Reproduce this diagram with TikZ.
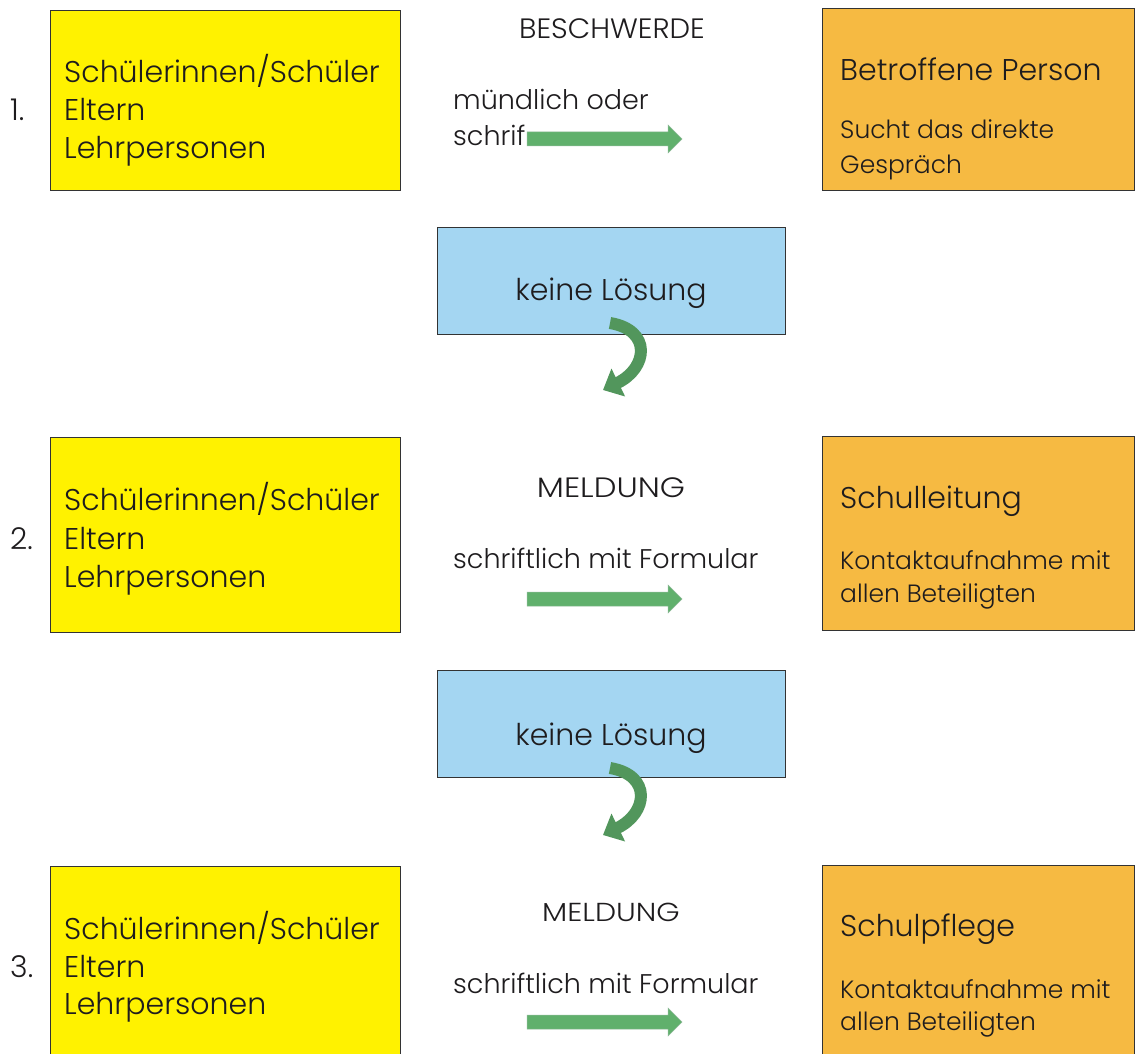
\documentclass[tikz,border=0pt]{standalone}
\usepackage{fontspec}
\IfFontExistsTF{Poppins Light}{\setmainfont{Poppins Light}}{\setmainfont{Poppins}}
\usetikzlibrary{arrows.meta}
\definecolor{yel}{RGB}{255,242,0}
\definecolor{ora}{RGB}{246,186,66}
\definecolor{blu}{RGB}{164,214,242}
\definecolor{grn}{RGB}{96,176,108}
\definecolor{grnd}{RGB}{66,140,84}
\definecolor{txt}{RGB}{30,28,30}
\newcommand\flatarr[1]{\fill[grn, draw=grnd!60, line width=0.5pt] (#1) ++(0,-7) -- ++(141,0) -- ++(0,-7) -- ++(14,14) -- ++(-14,14) -- ++(0,-7) -- ++(-141,0) -- cycle;}
\begin{document}
\begin{tikzpicture}[x=1pt,y=-1pt,
  box/.style={draw=black!80, line width=0.8pt, inner sep=0pt, outer sep=0pt, anchor=north west},
  ybox/.style={box, fill=yel, minimum width=350pt},
  obox/.style={box, fill=ora, minimum width=312pt},
  bbox/.style={box, fill=blu, minimum width=348pt, minimum height=107pt},
  lbl/.style={anchor=base west, inner sep=0pt, text=txt},
  big/.style={lbl, font=\fontsize{30}{36}\selectfont},
  mid/.style={lbl, font=\fontsize{27}{32}\selectfont},
  small/.style={lbl, font=\fontsize{25}{30}\selectfont},
  ctext/.style={anchor=base, inner sep=0pt, text=txt, font=\fontsize{28}{32}\selectfont},
  curv/.style={line width=12pt, draw=grn!85!black, -{Triangle[width=30pt,length=17pt]}}
]
\clip (0,0) rectangle (1138,1054);
\fill[white] (0,0) rectangle (1138,1054);

% ---------- row 1
\node[ybox, minimum height=180pt] (y1) at (50,10) {};
\node[obox, minimum height=182pt] (o1) at (822,8) {};
\node[big] (n1) at (10,121) {1.};
\node[big] (y1a) at (64,83) {Schülerinnen/Schüler};
\node[big] (y1b) at (64,121) {Eltern};
\node[big] (y1c) at (64,158) {Lehrpersonen};
\node[ctext, xscale=1.04, transform shape] (m1) at (612,39) {BESCHWERDE};
\node[mid] (m1a) at (453,110) {mündlich oder};
\node[mid] (m1b) at (453,146) {schrif};
\coordinate (a1) at (527,139);
\flatarr{a1}
\node[big] (o1a) at (840,81) {Betroffene Person};
\node[small] (o1b) at (840,139) {Sucht das direkte};
\node[small] (o1c) at (840,173) {Gespräch};

% ---------- blue 1
\node[bbox] (b1) at (437,227) {};
\node[ctext, font=\fontsize{30}{36}\selectfont] (b1t) at (b1.center |- 0,300) {keine Lösung};
\coordinate (c1s) at (610,323);
\coordinate (c1e) at (603,390);
\draw[curv] (c1s) .. controls (652,330) and (648,368) .. (c1e);

% ---------- row 2
\node[ybox, minimum height=195pt] (y2) at (50,437) {};
\node[obox, minimum height=194pt] (o2) at (822,436) {};
\node[big] (n2) at (10,549) {2.};
\node[big] (y2a) at (64,510) {Schülerinnen/Schüler};
\node[big] (y2b) at (64,549) {Eltern};
\node[big] (y2c) at (64,587) {Lehrpersonen};
\node[ctext, xscale=1.15, transform shape] (m2) at (611,497) {MELDUNG};
\node[mid] (m2a) at (453,568) {schriftlich mit Formular};
\coordinate (a2) at (527,599);
\flatarr{a2}
\node[big] (o2a) at (840,508) {Schulleitung};
\node[small] (o2b) at (840,569) {Kontaktaufnahme mit};
\node[small] (o2c) at (840,602) {allen Beteiligten};

% ---------- blue 2
\node[bbox] (b2) at (437,670) {};
\node[ctext, font=\fontsize{30}{36}\selectfont] (b2t) at (b2.center |- 0,745) {keine Lösung};
\coordinate (c2s) at (610,768);
\coordinate (c2e) at (603,835);
\draw[curv] (c2s) .. controls (652,775) and (648,813) .. (c2e);

% ---------- row 3
\node[ybox, minimum height=230pt] (y3) at (50,866) {};
\node[obox, minimum height=230pt] (o3) at (822,865) {};
\node[big] (n3) at (10,977) {3.};
\node[big] (y3a) at (64,939) {Schülerinnen/Schüler};
\node[big] (y3b) at (64,977) {Eltern};
\node[big] (y3c) at (64,1014) {Lehrpersonen};
\node[ctext, font=\fontsize{26}{30}\selectfont, xscale=1.15, transform shape] (m3) at (611,921) {MELDUNG};
\node[mid] (m3a) at (453,993) {schriftlich mit Formular};
\coordinate (a3) at (527,1022);
\flatarr{a3}
\node[big] (o3a) at (840,936) {Schulpflege};
\node[small] (o3b) at (840,998) {Kontaktaufnahme mit};
\node[small] (o3c) at (840,1030) {allen Beteiligten};
\end{tikzpicture}
\end{document}
